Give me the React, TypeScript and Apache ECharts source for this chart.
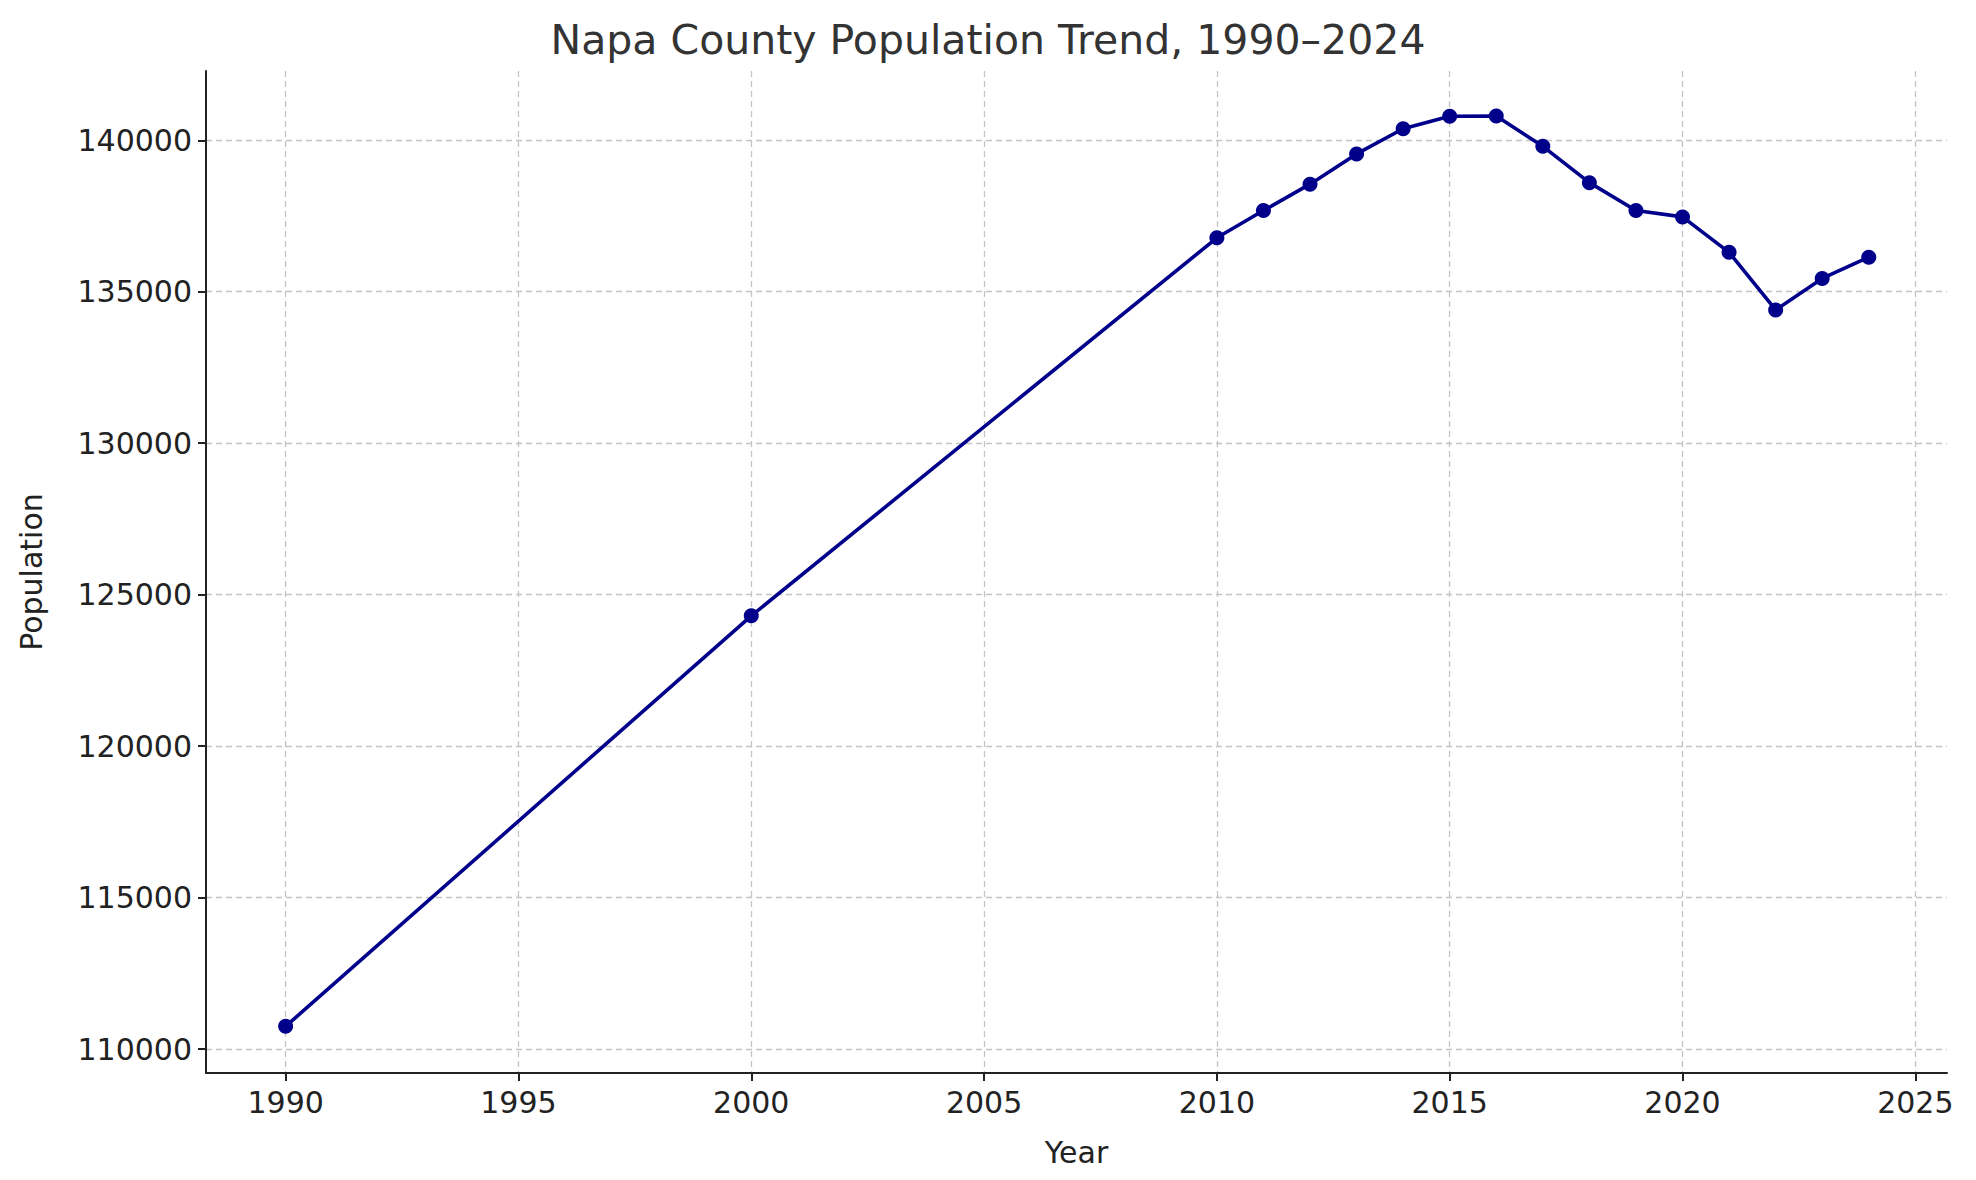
import {useEffect, useRef} from 'react';
import * as echarts from 'echarts';

const years = [1990, 2000, 2010, 2011, 2012, 2013, 2014, 2015, 2016, 2017, 2018, 2019, 2020, 2021, 2022, 2023, 2024];
const population = [110750, 124300, 136780, 137680, 138550, 139550, 140380, 140790, 140800, 139800, 138600, 137680, 137470, 136300, 134400, 135440, 136140];
const xTicks = [1990, 1995, 2000, 2005, 2010, 2015, 2020, 2025];
const yTicks = [110000, 115000, 120000, 125000, 130000, 135000, 140000];

const font = 'DejaVu Sans';
const grid = {lineStyle: {color: '#c4c4c4', type: [6, 4] as number[], width: 1.3}};

export default function App() {
    const ref = useRef<HTMLDivElement | null>(null);

    useEffect(() => {
        const el = ref.current;
        if (!el) return;
        const chart = echarts.init(el, null, {renderer: 'svg'});
        chart.setOption({
            animation: false,
            textStyle: {fontFamily: font},
            title: {
                text: 'Napa County Population Trend, 1990–2024',
                left: 'center',
                top: 6,
                textStyle: {fontFamily: font, fontSize: 41, fontWeight: 'normal', color: '#333'},
            },
            grid: {left: 192, right: 21, top: 63, bottom: 98},
            xAxis: {
                type: 'value',
                min: 1988.29,
                max: 2025.68,
                name: 'Year',
                nameLocation: 'middle',
                nameGap: 64,
                nameTextStyle: {fontSize: 30, color: '#222'},
                axisLine: {lineStyle: {color: '#222', width: 2}},
                axisTick: {show: true, length: 8, customValues: xTicks, lineStyle: {color: '#222', width: 2}},
                axisLabel: {customValues: xTicks, fontSize: 30, color: '#222', margin: 14, formatter: (v: number) => String(v)},
                splitLine: {show: true, ...grid},
            },
            yAxis: {
                type: 'value',
                min: 109210,
                max: 142286,
                name: 'Population',
                nameLocation: 'middle',
                nameGap: 160,
                nameTextStyle: {fontSize: 30, color: '#222'},
                axisLine: {show: true, lineStyle: {color: '#222', width: 2}},
                axisTick: {show: true, length: 8, customValues: yTicks, lineStyle: {color: '#222', width: 2}},
                axisLabel: {customValues: yTicks, fontSize: 30, color: '#222', margin: 14, formatter: (v: number) => String(v)},
                splitLine: {show: true, ...grid},
            },
            series: [{
                type: 'line',
                data: years.map((y, i) => [y, population[i]]),
                symbol: 'circle',
                symbolSize: 15,
                lineStyle: {color: '#00008b', width: 3.6},
                itemStyle: {color: '#00008b'},
            }],
        });
        return () => chart.dispose();
    }, []);

    return <div ref={ref} style={{width: '1960px', height: '1164px'}}/>;
}
